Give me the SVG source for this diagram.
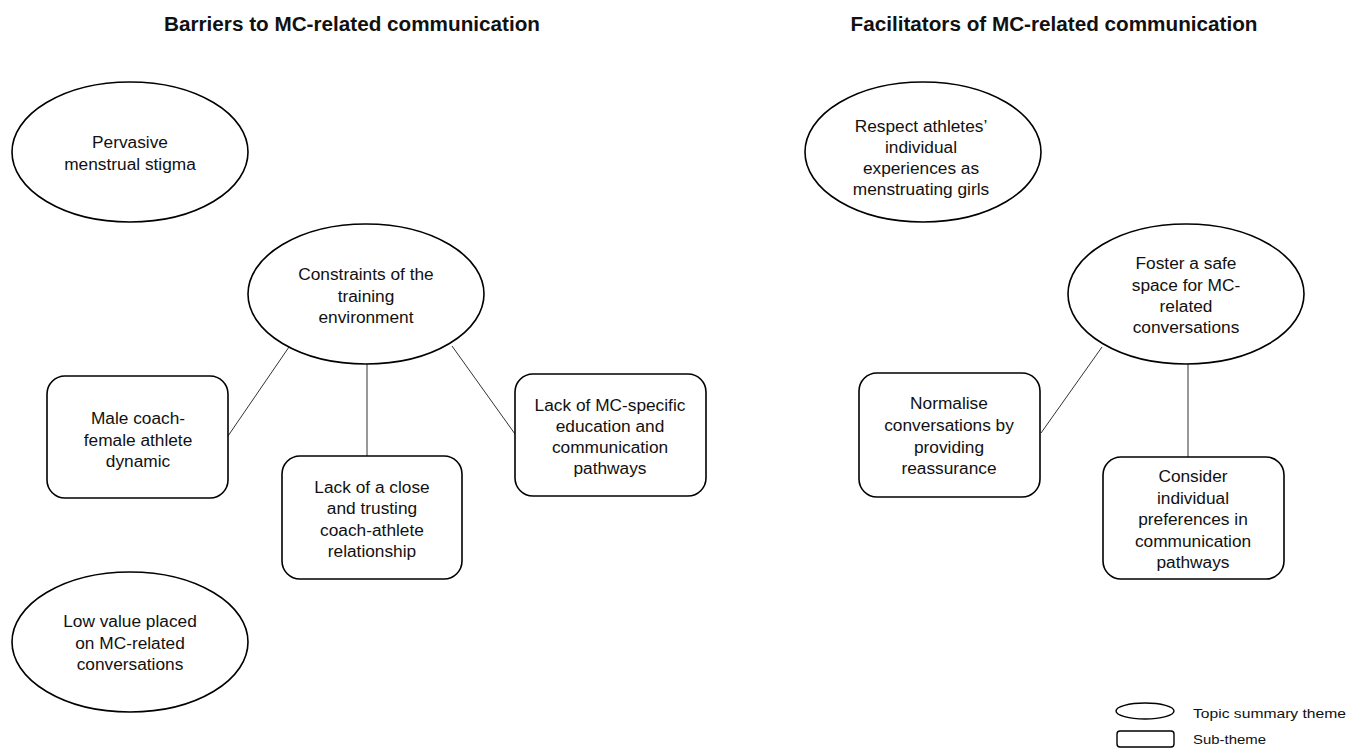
<svg xmlns="http://www.w3.org/2000/svg" width="1354" height="750" viewBox="0 0 1354 750">
<style>
.shape{fill:#fff;stroke:#000;stroke-width:1.6}
.lg{fill:#fff;stroke:#000;stroke-width:1.4}
.conn line{stroke:#333;stroke-width:1}
text{font-family:"Liberation Sans",Arial,Helvetica,sans-serif;fill:#111}
.t{font-size:17.3px;text-anchor:middle}
.title{font-size:20.7px;font-weight:bold;text-anchor:middle}
.leg{font-size:13px}
</style>
<rect width="1354" height="750" fill="#fff"/>
<text class="title" x="352" y="31">Barriers to MC-related communication</text>
<text class="title" x="1054" y="31">Facilitators of MC-related communication</text>

<g id="connectors" class="conn">
<line x1="289" y1="347" x2="228" y2="436"/>
<line x1="367" y1="364" x2="367" y2="456"/>
<line x1="452" y1="346" x2="515" y2="434"/>
<line x1="1102" y1="347" x2="1041" y2="433"/>
<line x1="1188" y1="364" x2="1188" y2="457"/>
</g>

<g id="pervasive">
<ellipse class="shape" cx="130" cy="152" rx="118" ry="70"/>
<text class="t" x="130" y="148">Pervasive</text>
<text class="t" x="130" y="170">menstrual stigma</text>
</g>

<g id="constraints">
<ellipse class="shape" cx="366" cy="294" rx="118" ry="70"/>
<text class="t" x="366" y="280">Constraints of the</text>
<text class="t" x="366" y="302">training</text>
<text class="t" x="366" y="323">environment</text>
</g>

<g id="male-coach">
<rect class="shape" x="47" y="376" width="181" height="122" rx="18"/>
<text class="t" x="138" y="424">Male coach-</text>
<text class="t" x="138" y="446">female athlete</text>
<text class="t" x="138" y="467">dynamic</text>
</g>

<g id="lack-close">
<rect class="shape" x="282" y="456" width="180" height="123" rx="18"/>
<text class="t" x="372" y="493">Lack of a close</text>
<text class="t" x="372" y="514">and trusting</text>
<text class="t" x="372" y="536">coach-athlete</text>
<text class="t" x="372" y="557">relationship</text>
</g>

<g id="lack-mc">
<rect class="shape" x="515" y="374" width="191" height="122" rx="18"/>
<text class="t" x="610" y="411">Lack of MC-specific</text>
<text class="t" x="610" y="432">education and</text>
<text class="t" x="610" y="453">communication</text>
<text class="t" x="610" y="474">pathways</text>
</g>

<g id="low-value">
<ellipse class="shape" cx="130" cy="642" rx="118" ry="70"/>
<text class="t" x="130" y="627">Low value placed</text>
<text class="t" x="130" y="649">on MC-related</text>
<text class="t" x="130" y="670">conversations</text>
</g>

<g id="respect">
<ellipse class="shape" cx="923" cy="152" rx="118" ry="70"/>
<text class="t" x="921" y="132">Respect athletes’</text>
<text class="t" x="921" y="153">individual</text>
<text class="t" x="921" y="174">experiences as</text>
<text class="t" x="921" y="195">menstruating girls</text>
</g>

<g id="foster">
<ellipse class="shape" cx="1186" cy="294" rx="118" ry="70"/>
<text class="t" x="1186" y="269">Foster a safe</text>
<text class="t" x="1186" y="291">space for MC-</text>
<text class="t" x="1186" y="312">related</text>
<text class="t" x="1186" y="333">conversations</text>
</g>

<g id="normalise">
<rect class="shape" x="859" y="373" width="181" height="124" rx="18"/>
<text class="t" x="949" y="409">Normalise</text>
<text class="t" x="949" y="431">conversations by</text>
<text class="t" x="949" y="453">providing</text>
<text class="t" x="949" y="474">reassurance</text>
</g>

<g id="consider">
<rect class="shape" x="1103" y="457" width="181" height="122" rx="18"/>
<text class="t" x="1193" y="482">Consider</text>
<text class="t" x="1193" y="504">individual</text>
<text class="t" x="1193" y="525">preferences in</text>
<text class="t" x="1193" y="547">communication</text>
<text class="t" x="1193" y="568">pathways</text>
</g>

<g id="legend">
<ellipse class="lg" cx="1145" cy="711" rx="29" ry="8"/>
<rect class="lg" x="1117" y="731" width="57" height="16" rx="3"/>
<text class="leg" x="1193" y="718" textLength="153" lengthAdjust="spacingAndGlyphs">Topic summary theme</text>
<text class="leg" x="1193" y="744" textLength="73" lengthAdjust="spacingAndGlyphs">Sub-theme</text>
</g>
</svg>
